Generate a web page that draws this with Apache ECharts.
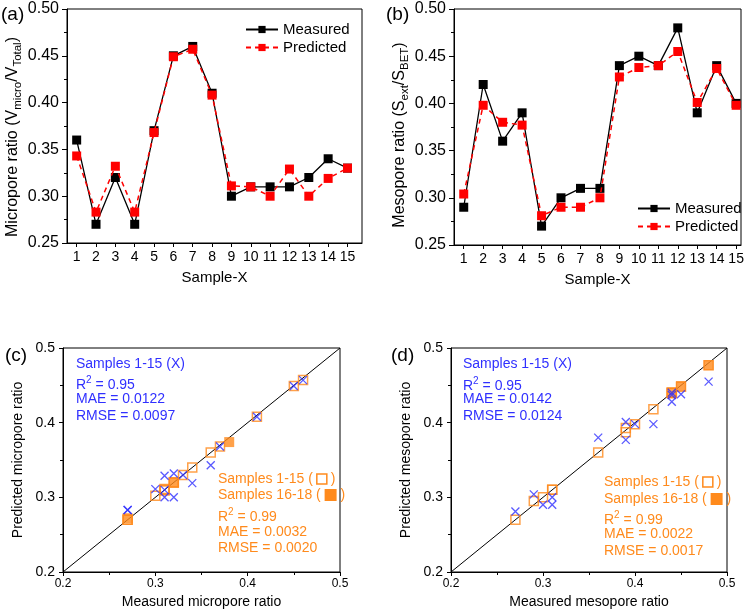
<!DOCTYPE html>
<html lang="en">
<head>
  <meta charset="UTF-8" />
  <script src="https://cdn.jsdelivr.net/npm/echarts@6/dist/echarts.min.js"></script>
  <title>Pore ratio prediction</title>
</head>
<body style="margin:0">
  <div id="main" style="width: 750px; height: 614px"></div>
  <script type="text/javascript">
    // samples 1-15
    var samples = [1, 2, 3, 4, 5, 6, 7, 8, 9, 10, 11, 12, 13, 14, 15];
    // (a) micropore ratio
    var microMeasured = [0.36, 0.27, 0.32, 0.27, 0.37, 0.45, 0.46, 0.41, 0.30, 0.31, 0.31, 0.31, 0.32, 0.34, 0.33];
    var microPredicted = [0.343, 0.283, 0.332, 0.283, 0.368, 0.449, 0.457, 0.408, 0.311, 0.31, 0.30, 0.329, 0.30, 0.319, 0.33];
    // (b) mesopore ratio
    var mesoMeasured = [0.29, 0.42, 0.36, 0.39, 0.27, 0.30, 0.31, 0.31, 0.44, 0.45, 0.44, 0.48, 0.39, 0.44, 0.40];
    var mesoPredicted = [0.304, 0.398, 0.38, 0.377, 0.281, 0.29, 0.29, 0.30, 0.428, 0.438, 0.44, 0.455, 0.401, 0.437, 0.398];
    // orange model, samples 1-15 (x = measured above) and samples 16-18
    var microOrangePred = [0.36, 0.27, 0.32, 0.27, 0.368, 0.449, 0.457, 0.408, 0.302, 0.31, 0.309, 0.311, 0.32, 0.34, 0.33];
    var microNewMeasured = [0.27, 0.32, 0.38];
    var microNewPred = [0.272, 0.32, 0.374];
    var mesoOrangePred = [0.295, 0.418, 0.36, 0.393, 0.27, 0.30, 0.31, 0.31, 0.44, 0.448, 0.44, 0.477, 0.387, 0.44, 0.398];
    var mesoNewMeasured = [0.44, 0.45, 0.48];
    var mesoNewPred = [0.439, 0.449, 0.477];
    var diagonal = [0.2, 0.5];

    var statsMicroBlue = ["Samples 1-15 (X)", "{t|R}{p|2}{t| = 0.95}", "MAE = 0.0122", "RMSE = 0.0097"];
    var statsMicroOrange = ["{t|Samples 1-15 ( }{o| }{t| )}", "{t|Samples 16-18 ( }{f| }{t| )}", "{t|R}{p|2}{t| = 0.99}", "MAE = 0.0032", "RMSE = 0.0020"];
    var statsMesoBlue = ["Samples 1-15 (X)", "{t|R}{p|2}{t| = 0.95}", "MAE = 0.0142", "RMSE = 0.0124"];
    var statsMesoOrange = ["{t|Samples 1-15 ( }{o| }{t| )}", "{t|Samples 16-18 ( }{f| }{t| )}", "{t|R}{p|2}{t| = 0.99}", "MAE = 0.0022", "RMSE = 0.0017"];

    var FONT = "Liberation Sans, Arial, sans-serif";
    var BLUE = "#3030ff";
    var ORANGE = "#ff8a1c";

    function pairs(xs, ys) {
      return xs.map(function (x, i) { return [x, ys[i]]; });
    }

    var subRich = {
      t: { fontSize: 16, fontFamily: FONT, color: "#000" },
      s: { fontSize: 11.5, fontFamily: FONT, color: "#000", verticalAlign: "bottom", padding: [10, 0, 0, 0] }
    };

    function sampleAxis(idx, max) {
      return {
        type: "value", gridIndex: idx, min: 0.5, max: max,
        name: "Sample-X", nameLocation: "middle", nameGap: 27,
        nameTextStyle: { fontSize: 15, fontFamily: FONT, color: "#000" },
        axisLine: { lineStyle: { color: "#000" } },
        axisTick: { customValues: samples, length: 4, lineStyle: { color: "#000" } },
        axisLabel: { customValues: samples, fontSize: 14, fontFamily: FONT, color: "#000", margin: 7 },
        splitLine: { show: false }
      };
    }
    function ratioYAxis(idx, name, shift) {
      return {
        type: "value", gridIndex: idx, min: 0.25, max: 0.5, interval: 0.05,
        name: name, nameLocation: "middle", nameGap: 34,
        nameTextStyle: { fontSize: 16, fontFamily: FONT, color: "#000", rich: subRich, padding: [0, shift, 0, 0] },
        axisLine: { show: true, lineStyle: { color: "#000" } },
        axisTick: { length: 5, lineStyle: { color: "#000" } },
        minorTick: { show: true, splitNumber: 2, length: 3, lineStyle: { color: "#000" } },
        axisLabel: { fontSize: 16, fontFamily: FONT, color: "#000", margin: 8, formatter: function (v) { return v.toFixed(2); } },
        splitLine: { show: false }
      };
    }
    function parityAxis(idx, name, isY) {
      return {
        type: "value", gridIndex: idx, min: 0.2, max: 0.5, interval: 0.1,
        name: name, nameLocation: "middle", nameGap: isY ? 38 : 23,
        nameTextStyle: { fontSize: 14, fontFamily: FONT, color: "#000" },
        axisLine: { show: true, lineStyle: { color: "#000" } },
        axisTick: { length: 4, lineStyle: { color: "#000" } },
        minorTick: { show: true, splitNumber: 2, length: 3, lineStyle: { color: "#000" } },
        axisLabel: { fontSize: isY ? 14 : 12, fontFamily: FONT, color: "#000", margin: isY ? 8 : 6, formatter: function (v) { return v.toFixed(1); } },
        splitLine: { show: false }
      };
    }

    function lineSeries(name, idx, data, color, dashed) {
      return {
        type: "line", name: name, xAxisIndex: idx, yAxisIndex: idx, data: data,
        symbol: "rect", symbolSize: 9,
        itemStyle: { color: color },
        lineStyle: { color: color, width: dashed ? 1.5 : 1.3, type: dashed ? [5, 4] : "solid" },
        z: dashed ? 3 : 2
      };
    }
    function parityPoints(idx, measured, predicted, orangePred, newMeas, newPred) {
      return [
        {
          type: "line", xAxisIndex: idx, yAxisIndex: idx, data: pairs(diagonal, diagonal),
          symbol: "none", lineStyle: { color: "#000", width: 1 }, z: 1, silent: true
        },
        {
          type: "scatter", xAxisIndex: idx, yAxisIndex: idx, data: pairs(measured, orangePred),
          symbol: "rect", symbolSize: 9,
          itemStyle: { color: "rgba(0,0,0,0)", borderColor: ORANGE, borderWidth: 1.5 }, z: 2
        },
        {
          type: "scatter", xAxisIndex: idx, yAxisIndex: idx, data: pairs(newMeas, newPred),
          symbol: "rect", symbolSize: 10,
          itemStyle: { color: ORANGE }, z: 3
        },
        {
          type: "scatter", xAxisIndex: idx, yAxisIndex: idx, data: pairs(measured, predicted),
          symbol: "path://M0,0L10,10M0,10L10,0", symbolSize: 8,
          itemStyle: { color: "rgba(0,0,0,0)", borderColor: BLUE, borderWidth: 1.3 }, z: 4
        }
      ];
    }

    function textLines(lines, x, ys, color) {
      return lines.map(function (s, i) {
        return {
          type: "text", left: x, top: ys[i] - 10, z: 100,
          style: {
            text: s, fill: color, fontSize: 14, fontFamily: FONT,
            rich: {
              t: { fontSize: 14, fontFamily: FONT, color: color },
              p: { fontSize: 10, fontFamily: FONT, color: color, verticalAlign: "top", padding: [0, 0, 10, 0] },
              o: { fontSize: 8, width: 10, height: 10, borderColor: color, borderWidth: 1.5, color: "transparent" },
              f: { fontSize: 8, width: 12, height: 12, backgroundColor: color, color: "transparent" }
            }
          }
        };
      });
    }
    function panelLabel(s, x, y) {
      return { type: "text", left: x, top: y, style: { text: s, fontSize: 19, fontFamily: FONT, fill: "#000" } };
    }

    var myChart = echarts.init(document.getElementById("main"));
    var gridStyle = { show: true, borderColor: "#000", borderWidth: 1, backgroundColor: "transparent" };

    myChart.setOption({
      animation: false,
      backgroundColor: "#fff",
      grid: [
        Object.assign({ left: 67, top: 9, width: 295, height: 234 }, gridStyle),
        Object.assign({ left: 454, top: 9, width: 287, height: 236 }, gridStyle),
        Object.assign({ left: 63, top: 348, width: 277, height: 224 }, gridStyle),
        Object.assign({ left: 451, top: 348, width: 276, height: 224 }, gridStyle)
      ],
      xAxis: [
        sampleAxis(0, 15.75),
        sampleAxis(1, 15.25),
        parityAxis(2, "Measured micropore ratio", false),
        parityAxis(3, "Measured mesopore ratio", false)
      ],
      yAxis: [
        ratioYAxis(0, "{t|Micropore ratio (V}{s|micro}{t|/V}{s|Total}{t|)}", 22),
        ratioYAxis(1, "{t|Mesopore ratio (S}{s|ext}{t|/S}{s|BET}{t|)}", 16),
        parityAxis(2, "Predicted micropore ratio", true),
        parityAxis(3, "Predicted mesopore ratio", true)
      ],
      legend: [
        {
          left: 245, top: 22, padding: 0, orient: "vertical", itemWidth: 32, itemHeight: 9, itemGap: 3,
          textStyle: { fontSize: 15, fontFamily: FONT, color: "#000" },
          data: ["Measured", "Predicted"]
        },
        {
          left: 637, top: 201, padding: 0, orient: "vertical", itemWidth: 32, itemHeight: 9, itemGap: 3,
          textStyle: { fontSize: 15, fontFamily: FONT, color: "#000" },
          data: ["Measured", "Predicted"]
        }
      ],
      series: [
        lineSeries("Measured", 0, pairs(samples, microMeasured), "#000", false),
        lineSeries("Predicted", 0, pairs(samples, microPredicted), "#ff0000", true),
        lineSeries("Measured", 1, pairs(samples, mesoMeasured), "#000", false),
        lineSeries("Predicted", 1, pairs(samples, mesoPredicted), "#ff0000", true)
      ].concat(
        parityPoints(2, microMeasured, microPredicted, microOrangePred, microNewMeasured, microNewPred),
        parityPoints(3, mesoMeasured, mesoPredicted, mesoOrangePred, mesoNewMeasured, mesoNewPred)
      ),
      graphic: [
        panelLabel("(a)", 1, 5),
        panelLabel("(b)", 386, 5),
        panelLabel("(c)", 5, 346),
        panelLabel("(d)", 391, 346)
      ].concat(
        textLines(statsMicroBlue, 76, [367, 385, 402, 419], BLUE),
        textLines(statsMicroOrange, 218, [482, 498, 517, 535, 551], ORANGE),
        textLines(statsMesoBlue, 463, [367, 386, 402, 419], BLUE),
        textLines(statsMesoOrange, 604, [485, 502, 520, 537, 554], ORANGE)
      )
    });
  </script>
</body>
</html>
